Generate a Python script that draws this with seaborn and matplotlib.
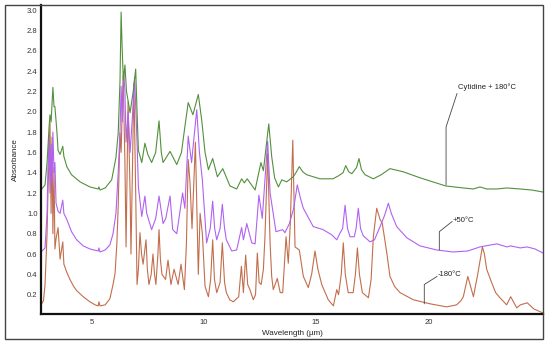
import matplotlib
matplotlib.use("Agg")
import matplotlib.pyplot as plt
import seaborn as sns
import pandas as pd
from matplotlib.patches import Rectangle

# ---- data (wavelength in µm, absorbance) ----
green_wl = [2.74, 2.92, 3.01, 3.10, 3.14, 3.19, 3.27, 3.32, 3.36, 3.45, 3.50, 3.59, 3.71, 3.76, 3.89,
            4.10, 4.48, 4.92, 5.29, 5.32, 5.37, 5.60, 5.89, 6.08, 6.18, 6.26, 6.31, 6.36, 6.41, 6.48,
            6.55, 6.71, 6.85, 6.96, 7.02, 7.08, 7.23, 7.37, 7.50, 7.67, 7.85, 8.00, 8.10, 8.18, 8.49,
            8.79, 9.00, 9.15, 9.30, 9.51, 9.75, 9.90, 10.05, 10.20, 10.39, 10.60, 10.84, 11.16, 11.46,
            11.68, 11.80, 11.93, 12.28, 12.54, 12.65, 12.89, 13.02, 13.15, 13.32, 13.47, 13.69, 13.98,
            14.10, 14.25, 14.40, 14.58, 15.17, 15.75, 16.00, 16.20, 16.32, 16.45, 16.59, 16.80, 16.91,
            17.02, 17.18, 17.55, 17.90, 18.29, 18.87, 19.63, 20.77, 21.55, 22.00, 22.30, 22.60, 23.05,
            23.50, 24.09, 24.60, 25.11]
green_ab = [1.23, 1.28, 1.50, 1.85, 1.97, 1.90, 2.24, 2.05, 2.05, 1.80, 1.62, 1.58, 1.66, 1.56, 1.46,
            1.38, 1.31, 1.26, 1.24, 1.26, 1.23, 1.25, 1.33, 1.55, 1.79, 2.30, 2.98, 2.60, 2.31, 2.46,
            2.20, 1.99, 2.20, 2.42, 2.00, 1.62, 1.50, 1.69, 1.58, 1.50, 1.60, 1.91, 1.60, 1.50, 1.61,
            1.48, 1.60, 1.85, 2.09, 1.97, 2.17, 1.92, 1.60, 1.43, 1.54, 1.36, 1.44, 1.27, 1.24,
            1.34, 1.30, 1.34, 1.23, 1.50, 1.42, 1.88, 1.56, 1.35, 1.26, 1.33, 1.31, 1.36,
            1.40, 1.46, 1.41, 1.38, 1.34, 1.34, 1.37, 1.40, 1.47, 1.41, 1.39, 1.45, 1.54,
            1.43, 1.38, 1.34, 1.38, 1.44, 1.41, 1.35, 1.27, 1.25, 1.24, 1.26, 1.24, 1.24,
            1.25, 1.24, 1.23, 1.21]

purple_wl = [2.74, 2.92, 3.01, 3.05, 3.10, 3.14, 3.19, 3.23, 3.27, 3.32, 3.36, 3.41, 3.50, 3.59, 3.71,
             3.76, 3.89, 4.10, 4.33, 4.62, 4.92, 5.29, 5.32, 5.37, 5.60, 5.81, 5.95, 6.08, 6.18, 6.26,
             6.31, 6.36, 6.43, 6.48, 6.53, 6.62, 6.71, 6.80, 6.91, 7.02, 7.08, 7.23, 7.37, 7.45, 7.67,
             7.85, 8.00, 8.18, 8.30, 8.49, 8.61, 8.79, 9.05, 9.15, 9.30, 9.45, 9.68, 9.80, 9.93, 10.12,
             10.28, 10.39, 10.48, 10.57, 10.72, 10.82, 10.92, 11.00, 11.24, 11.46, 11.68, 11.76, 11.91,
             12.13, 12.28, 12.45, 12.60, 12.84, 12.95, 13.21, 13.51, 13.61, 13.81, 14.00, 14.16, 14.30,
             14.43, 14.87, 15.31, 15.69, 15.92, 16.05, 16.18, 16.29, 16.40, 16.51, 16.70, 16.78, 16.88,
             16.98, 17.10, 17.40, 17.60, 17.85, 18.05, 18.22, 18.35, 18.59, 19.04, 19.63, 20.37, 21.11,
             21.76, 22.30, 23.05, 23.50, 23.67, 24.10, 24.40, 24.75, 25.11]
purple_ab = [0.62, 0.66, 1.00, 1.45, 1.75, 1.20, 1.68, 1.30, 1.80, 1.40, 1.50, 1.10, 1.02, 1.00, 1.13,
             1.00, 0.94, 0.82, 0.74, 0.68, 0.65, 0.63, 0.66, 0.62, 0.64, 0.69, 0.80, 1.00, 1.40, 1.79,
             2.25, 1.90, 2.38, 2.20, 1.70, 2.00, 1.60, 1.90, 2.34, 1.70, 1.26, 0.97, 1.17, 1.00, 0.84,
             0.95, 1.17, 0.90, 0.95, 1.17, 0.84, 0.80, 1.20, 1.05, 1.76, 1.50, 2.02, 1.60, 1.33, 0.71,
             0.85, 1.12, 0.85, 0.74, 0.85, 1.09, 0.85, 0.74, 0.63, 0.64, 0.86, 0.74, 0.90,
             0.71, 0.70, 1.18, 0.95, 1.71, 1.20, 0.82, 0.84, 0.81, 0.90, 1.05, 1.28, 1.15,
             1.05, 0.87, 0.84, 0.79, 0.74, 0.80, 0.85, 1.08, 0.85, 0.77, 0.77, 0.85, 1.05,
             0.85, 0.78, 0.72, 0.74, 0.87, 0.98, 1.10, 1.00, 0.87, 0.76, 0.68, 0.64, 0.62,
             0.63, 0.67, 0.70, 0.67, 0.68, 0.66, 0.67, 0.65, 0.61]

brown_wl = [2.74, 2.85, 2.92, 3.01, 3.05, 3.10, 3.14, 3.19, 3.23, 3.27, 3.32, 3.36, 3.41, 3.50, 3.59,
            3.71, 3.76, 3.89, 4.03, 4.20, 4.33, 4.62, 4.92, 5.15, 5.29, 5.32, 5.37, 5.60, 5.81, 5.95,
            6.04, 6.12, 6.18, 6.26, 6.31, 6.40, 6.48, 6.53, 6.62, 6.71, 6.75, 6.88, 6.96, 7.02, 7.08,
            7.15, 7.22, 7.29, 7.42, 7.48, 7.55, 7.65, 7.73, 7.80, 7.86, 7.95, 8.00, 8.06, 8.13, 8.29,
            8.40, 8.53, 8.67, 8.85, 8.98, 9.13, 9.22, 9.30, 9.38, 9.47, 9.62, 9.75, 9.83, 9.93, 10.05,
            10.20, 10.30, 10.39, 10.47, 10.57, 10.72, 10.82, 10.92, 11.00, 11.15, 11.31, 11.55, 11.67,
            11.76, 11.86, 11.95, 12.05, 12.20, 12.30, 12.38, 12.46, 12.55, 12.65, 12.72, 12.84, 12.95,
            13.02, 13.09, 13.27, 13.40, 13.51, 13.66, 13.76, 13.85, 13.96, 14.06, 14.25, 14.43, 14.65,
            14.80, 14.95, 15.08, 15.25, 15.54, 15.77, 15.92, 16.00, 16.12, 16.21, 16.30, 16.43, 16.65,
            16.75, 16.84, 16.93, 17.06, 17.33, 17.45, 17.55, 17.70, 17.85, 17.95, 18.15, 18.29, 18.50,
            18.74, 19.33, 20.08, 20.82, 21.26, 21.45, 21.56, 21.68, 21.76, 21.86, 22.01, 22.20, 22.41,
            22.50, 22.60, 22.82, 23.00, 23.19, 23.49, 23.67, 23.94, 24.10, 24.41, 24.70, 25.11]
brown_ab = [0.10, 0.14, 0.30, 0.80, 1.20, 1.60, 1.90, 1.00, 1.75, 0.80, 1.45, 0.65, 0.75, 0.86, 0.55,
            0.72, 0.50, 0.42, 0.35, 0.28, 0.24, 0.18, 0.13, 0.10, 0.09, 0.13, 0.09, 0.10, 0.16, 0.30,
            0.41, 0.70, 1.07, 1.79, 1.60, 2.36, 1.50, 0.67, 2.10, 1.20, 0.60, 2.28, 1.20, 0.30, 0.45,
            0.81, 0.60, 0.50, 0.74, 0.45, 0.30, 0.40, 0.60, 0.40, 0.30, 0.60, 0.84, 0.55, 0.40, 0.35,
            0.54, 0.30, 0.45, 0.30, 0.50, 0.25, 0.70, 1.53, 1.30, 0.85, 1.70, 0.40, 1.00, 0.80, 0.28,
            0.18, 0.35, 0.74, 0.35, 0.22, 0.32, 0.71, 0.32, 0.22, 0.15, 0.13, 0.18, 0.48,
            0.22, 0.59, 0.30, 0.25, 0.15, 0.20, 0.61, 0.32, 0.30, 0.45, 0.77, 1.59, 0.70,
            0.38, 0.25, 0.36, 0.22, 0.22, 0.77, 0.51, 0.90, 1.72, 0.67, 0.64, 0.38, 0.27,
            0.40, 0.63, 0.45, 0.30, 0.15, 0.09, 0.25, 0.20, 0.40, 0.71, 0.40, 0.22, 0.22,
            0.40, 0.66, 0.40, 0.22, 0.17, 0.35, 0.77, 1.05, 0.94, 0.90, 0.61, 0.38, 0.28,
            0.22, 0.15, 0.11, 0.08, 0.10, 0.14, 0.18, 0.30, 0.38, 0.30, 0.18, 0.40, 0.67,
            0.60, 0.45, 0.32, 0.22, 0.17, 0.10, 0.18, 0.07, 0.10, 0.12, 0.06, 0.02]

series_labels = ["Cytidine + 180°C", "+50°C", "-180°C"]
x_ticks = [5, 10, 15, 20]
y_ticks = [0.2, 0.4, 0.6, 0.8, 1.0, 1.2, 1.4, 1.6, 1.8, 2.0, 2.2, 2.4, 2.6, 2.8, 3.0]

# ---- styling ----
sns.set_style("white")
plt.rcParams["font.family"] = ["Liberation Sans", "DejaVu Sans"]

fig = plt.figure(figsize=(5.5, 3.45), dpi=100)
ax = fig.add_axes([41 / 550, 31 / 345, 502 / 550, 309 / 345])

# outer frame
fig.patches.append(Rectangle((5 / 550, 6 / 345), 538 / 550, 334 / 345, transform=fig.transFigure,
                             fill=False, edgecolor="#444444", linewidth=1.0, zorder=0))

c_green = "#52903c"
c_purple = "#b062f2"
c_brown = "#c26e4c"

df_b = pd.DataFrame({"wl": brown_wl, "ab": brown_ab})
df_p = pd.DataFrame({"wl": purple_wl, "ab": purple_ab})
df_g = pd.DataFrame({"wl": green_wl, "ab": green_ab})

sns.lineplot(data=df_b, x="wl", y="ab", ax=ax, color=c_brown, lw=0.8, estimator=None, sort=False)
sns.lineplot(data=df_p, x="wl", y="ab", ax=ax, color=c_purple, lw=0.8, estimator=None, sort=False)
sns.lineplot(data=df_g, x="wl", y="ab", ax=ax, color=c_green, lw=0.8, estimator=None, sort=False)

ax.set_xlim(2.74, 25.11)
ax.set_ylim(0.01, 3.05)
ax.set_xticks(x_ticks)
ax.set_yticks(y_ticks)
ax.set_xticklabels([str(t) for t in x_ticks])
ax.set_yticklabels([f"{t:.1f}" for t in y_ticks])
ax.tick_params(axis="both", length=0, labelsize=5.5, colors="#333333", pad=2.5)
ax.tick_params(axis="x", pad=3.5)

for s in ["top", "right"]:
    ax.spines[s].set_visible(False)
for s in ["left", "bottom"]:
    ax.spines[s].set_color("#111111")
    ax.spines[s].set_linewidth(1.6)

ax.set_xlabel("Wavelength (µm)", fontsize=5.8, color="#222222", labelpad=3)
ax.set_ylabel("Absorbance", fontsize=5.8, color="#222222", labelpad=6)

# annotations with leader lines
lead = "#444444"
ax.plot([21.28, 20.79, 20.79], [2.18, 1.85, 1.28], color=lead, lw=0.6)
ax.text(21.30, 2.20, series_labels[0], fontsize=5.5, color="#222222", va="bottom", ha="left")
ax.plot([21.06, 20.49, 20.49], [0.92, 0.82, 0.64], color=lead, lw=0.6)
ax.text(21.08, 0.93, series_labels[1], fontsize=5.5, color="#222222", va="center", ha="left")
ax.plot([20.39, 19.82, 19.82], [0.38, 0.30, 0.11], color=lead, lw=0.6)
ax.text(20.41, 0.40, series_labels[2], fontsize=5.5, color="#222222", va="center", ha="left")

fig.savefig("out.png", dpi=100)
